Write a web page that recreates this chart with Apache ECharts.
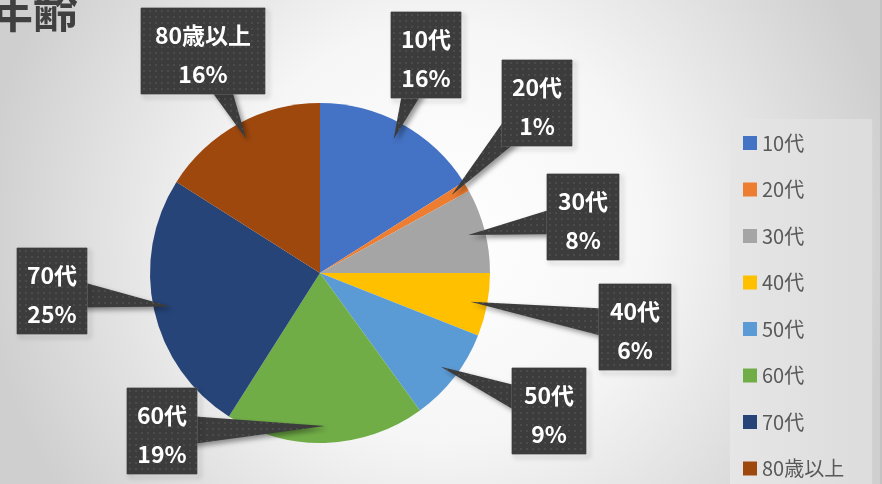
<!DOCTYPE html>
<html>
<head>
<meta charset="utf-8">
<script src="https://cdn.jsdelivr.net/npm/echarts@6/dist/echarts.min.js"></script>
<style>
  html, body { margin: 0; padding: 0; }
  #chart { width: 882px; height: 484px; }
</style>
</head>
<body>
<div id="chart"></div>
<script>
// 年齢構成（%）
const categories = ['10代', '20代', '30代', '40代', '50代', '60代', '70代', '80歳以上'];
const shares = [16, 1, 8, 6, 9, 19, 25, 16];
const colors = ['#4472c4', '#ed7d31', '#a5a5a5', '#ffc000', '#5b9bd5', '#70ad47', '#264478', '#9e480e'];

// label box placement (center x, top y) and width
const labelPos = [[426, 12], [537, 60], [583, 174], [635, 284], [549, 368], [162, 388], [52, 248], [203, 8]];
const labelW = [70, 70, 72, 72, 74, 70, 70, 124];
const boxH = 86;

const CX = 320, CY = 273, R = 170;
const FONT = '"Noto Sans CJK JP", "Noto Sans", sans-serif';

// dark dotted texture for the callouts
function dotCanvas(w, h) {
  const c = document.createElement('canvas');
  c.width = w; c.height = h;
  const g = c.getContext('2d');
  g.fillStyle = '#3c3c3c';
  g.fillRect(0, 0, w, h);
  g.fillStyle = '#4b4b4b';
  for (let y = 2; y < h; y += 6) {
    for (let x = 2; x < w; x += 6) g.fillRect(x, y, 2, 2);
  }
  return c;
}
const tile = dotCanvas(6, 6);

// callout wedges: from box center to a point inside its slice
const total = shares.reduce((a, b) => a + b, 0);
const wedges = [];
let acc = 0;
shares.forEach((v, i) => {
  const mid = (acc + v / 2) / total * Math.PI * 2;
  acc += v;
  const tx = CX + R * 0.9 * Math.sin(mid);
  const ty = CY - R * 0.9 * Math.cos(mid);
  const bx = labelPos[i][0];
  const by = labelPos[i][1] + boxH / 2;
  const dx = tx - bx, dy = ty - by;
  const len = Math.sqrt(dx * dx + dy * dy);
  const px = -dy / len * 17, py = dx / len * 17;
  wedges.push({
    type: 'polygon',
    z: 3,
    silent: true,
    shape: { points: [[bx + px, by + py], [bx - px, by - py], [tx, ty]] },
    style: {
      fill: { image: tile, repeat: 'repeat' },
      shadowBlur: 5, shadowOffsetX: 3, shadowOffsetY: 3,
      shadowColor: 'rgba(0,0,0,0.4)'
    }
  });
});

const chart = echarts.init(document.getElementById('chart'));

const sliceData = categories.map((name, i) => ({
  name, value: shares[i], itemStyle: { color: colors[i] }
}));

const labelData = categories.map((name, i) => ({
  name, value: shares[i],
  label: {
    width: labelW[i],
    backgroundColor: { image: dotCanvas(labelW[i], boxH) }
  }
}));

const option = {
  backgroundColor: {
    type: 'radial', x: 0.5, y: 0.48, r: 0.95,
    colorStops: [
      { offset: 0, color: '#ffffff' },
      { offset: 0.45, color: '#f6f6f6' },
      { offset: 1, color: '#cfcfcf' }
    ]
  },
  animation: false,
  title: {
    text: '年齢',
    left: -12,
    top: -12,
    padding: 0,
    textStyle: { fontFamily: FONT, fontSize: 45, fontWeight: 'bold', color: '#404040' }
  },
  legend: {
    orient: 'vertical',
    left: 730,
    top: 119,
    height: 420,
    padding: [14, 28, 20, 13],
    backgroundColor: {
      type: 'linear', x: 0, y: 0, x2: 1, y2: 0,
      colorStops: [{ offset: 0, color: '#e6e6e6' }, { offset: 1, color: '#dcdcdc' }]
    },
    itemWidth: 14,
    itemHeight: 14,
    itemGap: 26.5,
    icon: 'rect',
    data: categories,
    textStyle: { fontFamily: FONT, fontSize: 20, lineHeight: 20, color: '#595959' }
  },
  graphic: {
    elements: wedges.concat([{
      type: 'rect', right: 0, top: 0, z: 1,
      shape: { width: 2, height: 484 },
      style: { fill: '#c2c2c2' }
    }])
  },
  series: [
    {
      name: '年齢',
      type: 'pie',
      z: 2,
      center: [CX, CY],
      radius: R,
      startAngle: 90,
      clockwise: true,
      label: { show: false },
      labelLine: { show: false },
      emphasis: { disabled: true },
      data: sliceData
    },
    {
      name: '年齢ラベル',
      type: 'pie',
      z: 4,
      silent: true,
      center: [CX, CY],
      radius: R,
      startAngle: 90,
      clockwise: true,
      itemStyle: { color: 'rgba(0,0,0,0)' },
      emphasis: { disabled: true },
      labelLine: { show: false },
      label: {
        show: true,
        formatter: p => p.name + '\n' + p.value + '%',
        fontFamily: FONT,
        fontSize: 23,
        fontWeight: 'bold',
        color: '#ffffff',
        lineHeight: 39,
        align: 'center',
        padding: [8, 0, 0, 0],
        borderColor: '#6a6a6a',
        borderWidth: 1,
        shadowBlur: 5,
        shadowOffsetX: 3,
        shadowOffsetY: 3,
        shadowColor: 'rgba(0,0,0,0.4)'
      },
      labelLayout: params => {
        const p = labelPos[params.dataIndex];
        return { x: p[0], y: p[1], align: 'center', verticalAlign: 'top' };
      },
      data: labelData
    }
  ]
};

chart.setOption(option);
</script>
</body>
</html>
